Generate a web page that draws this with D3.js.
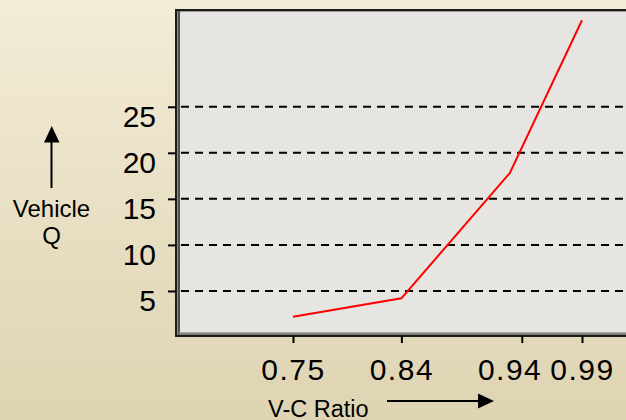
<!DOCTYPE html>
<html>
<head>
<meta charset="utf-8">
<script src="https://cdn.jsdelivr.net/npm/d3@7/dist/d3.min.js"></script>
<style>
  html, body { margin: 0; padding: 0; background: #efe7cd; }
  svg { display: block; }
  text { font-family: "Liberation Sans", Arial, Helvetica, sans-serif; fill: #000; }
</style>
</head>
<body>
<svg id="chart" width="626" height="420"></svg>
<script>
// V-C ratio vs. vehicle queue
const vcRatio   = [0.75, 0.84, 0.93, 0.99];
const vehicleQ  = [2.2, 4.2, 17.8, 34.4];
const xTickVals = [0.75, 0.84, 0.94, 0.99];
const xTickText = ["0.75", "0.84", "0.94", "0.99"];
const yTickVals = [5, 10, 15, 20, 25];
const yTickText = ["5", "10", "15", "20", "25"];

const W = 626, H = 420;
const plot = { left: 179, top: 11, right: 640, bottom: 336 };

const svg = d3.select("#chart");

// page background: soft cream-to-tan vertical gradient
const defs = svg.append("defs");
const grad = defs.append("linearGradient")
  .attr("id", "bg").attr("x1", 0).attr("y1", 0).attr("x2", 0).attr("y2", 1);
grad.append("stop").attr("offset", "0%").attr("stop-color", "#f3ecd6");
grad.append("stop").attr("offset", "100%").attr("stop-color", "#ded4b3");
svg.append("rect").attr("width", W).attr("height", H).attr("fill", "url(#bg)");

const x = d3.scaleLinear().domain([0.75, 0.99]).range([293, 582]);
const y = d3.scaleLinear().domain([0, 35.4]).range([337, 11]);

// plot panel
svg.append("rect")
  .attr("x", plot.left).attr("y", plot.top)
  .attr("width", plot.right - plot.left).attr("height", plot.bottom - plot.top)
  .attr("fill", "#e6e5e1");

// dashed reference lines
svg.append("g").selectAll("line").data(yTickVals).join("line")
  .attr("x1", 181).attr("x2", plot.right)
  .attr("y1", d => y(d)).attr("y2", d => y(d))
  .attr("stroke", "#000").attr("stroke-width", 2)
  .attr("stroke-dasharray", "8,6");

// frame: dark outer edge with a grey inset along left and bottom
const frame = svg.append("g");
frame.append("line").attr("x1", 175).attr("x2", plot.right).attr("y1", 10).attr("y2", 10)
  .attr("stroke", "#1c1c1c").attr("stroke-width", 2);
frame.append("line").attr("x1", 180).attr("x2", plot.right).attr("y1", 11.5).attr("y2", 11.5)
  .attr("stroke", "#9c9b97").attr("stroke-width", 1);
frame.append("line").attr("x1", 176).attr("x2", 176).attr("y1", 9).attr("y2", 337)
  .attr("stroke", "#1c1c1c").attr("stroke-width", 2);
frame.append("line").attr("x1", 177.5).attr("x2", 177.5).attr("y1", 11).attr("y2", 335)
  .attr("stroke", "#8f8e8a").attr("stroke-width", 1);
frame.append("line").attr("x1", 179).attr("x2", 179).attr("y1", 11).attr("y2", 334)
  .attr("stroke", "#1c1c1c").attr("stroke-width", 1.5);
frame.append("line").attr("x1", 179).attr("x2", plot.right).attr("y1", 333.3).attr("y2", 333.3)
  .attr("stroke", "#8f8e8a").attr("stroke-width", 2);
frame.append("line").attr("x1", 175).attr("x2", plot.right).attr("y1", 335.7).attr("y2", 335.7)
  .attr("stroke", "#1c1c1c").attr("stroke-width", 2.6);

// y axis ticks and labels
const yAxis = d3.axisLeft(y)
  .tickValues(yTickVals)
  .tickFormat((d, i) => yTickText[i])
  .tickSize(8).tickPadding(12);
const gy = svg.append("g").attr("transform", "translate(176,0)").call(yAxis);
gy.select(".domain").remove();
gy.selectAll(".tick line").attr("stroke", "#000").attr("stroke-width", 2);
gy.selectAll(".tick text")
  .attr("dy", null).attr("y", 20)
  .style("font-size", "30px")
  .attr("font-family", null);

// x axis ticks and labels
const xAxis = d3.axisBottom(x)
  .tickValues(xTickVals)
  .tickFormat((d, i) => xTickText[i])
  .tickSize(7);
const gx = svg.append("g").attr("transform", "translate(0,336)").call(xAxis);
gx.select(".domain").remove();
gx.selectAll(".tick line").attr("stroke", "#000").attr("stroke-width", 2);
const xLabels = gx.selectAll(".tick text")
  .attr("dy", null).attr("y", 44)
  .style("font-size", "30px")
  .style("letter-spacing", "1.5px")
  .attr("font-family", null);

// keep crowded tick labels apart: push a label left when it runs into its right neighbour
{
  const nodes = xLabels.nodes();
  const minGap = 8;
  const shift = nodes.map(() => 0);
  for (let i = nodes.length - 2; i >= 0; i--) {
    const a = nodes[i].getBoundingClientRect();
    const b = nodes[i + 1].getBoundingClientRect();
    const overlap = (a.right + shift[i]) + minGap - (b.left + shift[i + 1]);
    if (overlap > 0) shift[i] = -overlap;
  }
  nodes.forEach((n, i) => d3.select(n).attr("x", shift[i]));
}

// the curve
const line = d3.line().x(d => x(d[0])).y(d => y(d[1]));
svg.append("path")
  .datum(vcRatio.map((v, i) => [v, vehicleQ[i]]))
  .attr("d", line)
  .attr("fill", "none")
  .attr("stroke", "#ff0000")
  .attr("stroke-width", 2);

// y axis title with upward arrow
svg.append("line").attr("x1", 51.5).attr("x2", 51.5).attr("y1", 188).attr("y2", 140)
  .attr("stroke", "#000").attr("stroke-width", 2);
svg.append("path").attr("d", "M44,142.5L59.5,142.5L51.75,126Z").attr("fill", "#000");
svg.append("text").attr("text-anchor", "middle").style("font-size", "24px")
  .attr("x", 51.5).attr("y", 217).text("Vehicle");
svg.append("text").attr("text-anchor", "middle").style("font-size", "24px")
  .attr("x", 51.5).attr("y", 244).text("Q");

// x axis title with rightward arrow
svg.append("text").attr("x", 268).attr("y", 416.5).style("font-size", "23.5px").text("V-C Ratio");
svg.append("line").attr("x1", 387).attr("x2", 481).attr("y1", 401).attr("y2", 401)
  .attr("stroke", "#000").attr("stroke-width", 2);
svg.append("path").attr("d", "M478,393.5L478,408.5L494,401Z").attr("fill", "#000");
</script>
</body>
</html>
